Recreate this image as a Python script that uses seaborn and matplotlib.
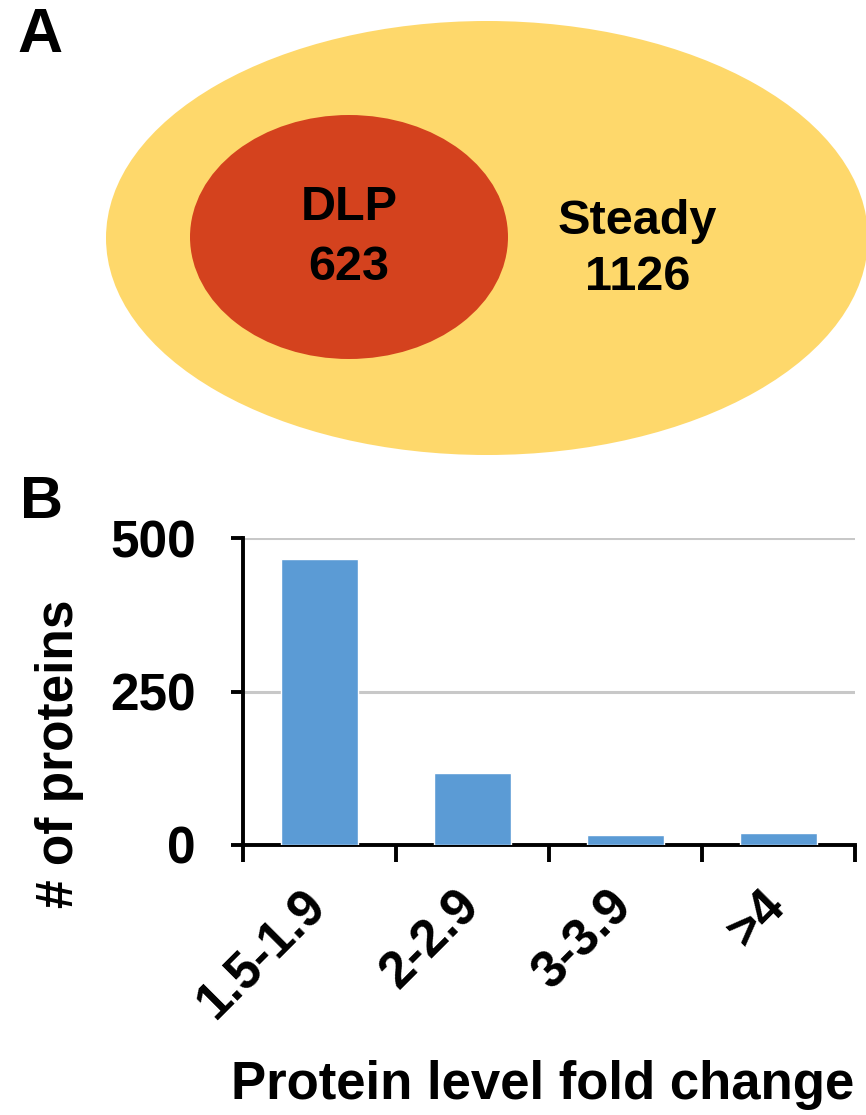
import matplotlib
matplotlib.use("Agg")
import matplotlib.pyplot as plt
import matplotlib.transforms as mtransforms
from matplotlib.patches import Ellipse
import seaborn as sns
import pandas as pd

# ---- data ----
venn_labels = ["DLP", "Steady"]
venn_counts = [623, 1126]
fold_categories = ["1.5-1.9", "2-2.9", "3-3.9", ">4"]
protein_counts = [465, 117, 16, 20]
y_ticks = [0, 250, 500]

sns.set_theme(style="white")
plt.rcParams['font.family'] = ['Liberation Sans', 'DejaVu Sans']
plt.rcParams['font.weight'] = 'bold'
plt.rcParams['text.color'] = 'black'
plt.rcParams['xtick.color'] = 'black'
plt.rcParams['ytick.color'] = 'black'
plt.rcParams['axes.labelcolor'] = 'black'

W, H = 866, 1115
fig = plt.figure(figsize=(W / 100, H / 100), dpi=100)
fig.patch.set_facecolor("white")

# ---- Panel A ----
axA = fig.add_axes([0, 0, 1, 1], zorder=0)
axA.set_xlim(0, W)
axA.set_ylim(H, 0)
axA.axis("off")
axA.add_patch(Ellipse((487, 238), 762, 434, facecolor="#FED86B", edgecolor="none"))
axA.add_patch(Ellipse((349, 237), 318, 244, facecolor="#D4421E", edgecolor="none"))
axA.text(349, 207, venn_labels[0], ha="center", va="center", fontsize=35, fontweight="bold")
axA.text(349, 268, str(venn_counts[0]), ha="center", va="center", fontsize=35, fontweight="bold")
axA.text(637, 222, venn_labels[1], ha="center", va="center", fontsize=35, fontweight="bold")
axA.text(638, 278, str(venn_counts[1]), ha="center", va="center", fontsize=35, fontweight="bold")
axA.text(40, 36, "A", ha="center", va="center", fontsize=45, fontweight="bold")
axA.text(41, 502, "B", ha="center", va="center", fontsize=43, fontweight="bold")

# ---- Panel B ----
x0, x1 = 243, 855
y0, y1 = 845, 538
axB = fig.add_axes([x0 / W, 1 - y0 / H, (x1 - x0) / W, (y0 - y1) / H], zorder=1)
axB.patch.set_alpha(0)
df = pd.DataFrame({"cat": fold_categories, "n": protein_counts})
sns.barplot(data=df, x="cat", y="n", color="#5B9BD5", saturation=1, width=0.5, ax=axB, zorder=3)
axB.set_xlim(-0.5, len(fold_categories) - 0.5)
axB.set_ylim(0, 500)
axB.set_yticks(y_ticks)
axB.set_yticklabels([str(v) for v in y_ticks], fontsize=37, fontweight="bold")
axB.yaxis.grid(True, color="#C8C8C8", linewidth=2.2, zorder=0)
axB.set_axisbelow(True)
for s in ["top", "right"]:
    axB.spines[s].set_visible(False)
for s in ["left", "bottom"]:
    axB.spines[s].set_color("black")
    axB.spines[s].set_linewidth(2.8)
axB.tick_params(axis="y", which="major", direction="out", length=9, width=2.8, pad=25, left=True)
axB.set_xticks(range(len(fold_categories)))
axB.set_xticklabels(fold_categories, rotation=45, ha="right", rotation_mode="anchor",
                    fontsize=37, fontweight="bold")
axB.tick_params(axis="x", which="major", length=0, pad=26)
axB.set_xticks([i - 0.5 for i in range(len(fold_categories) + 1)], minor=True)
axB.tick_params(axis="x", which="minor", direction="out", length=12, width=2.8, bottom=True)
offset = mtransforms.ScaledTranslation(-0.18, 0, fig.dpi_scale_trans)
for lab in axB.get_xticklabels():
    lab.set_transform(lab.get_transform() + offset)
axB.set_xlabel("")
axB.set_ylabel("")
fig.text(60 / W, 1 - 754 / H, "# of proteins", rotation=90, ha="center", va="center",
         fontsize=37, fontweight="bold")
fig.text(543 / W, 1 - 1085 / H, "Protein level fold change", ha="center", va="center",
         fontsize=38, fontweight="bold")

fig.savefig("out.png", dpi=100, facecolor="white")
